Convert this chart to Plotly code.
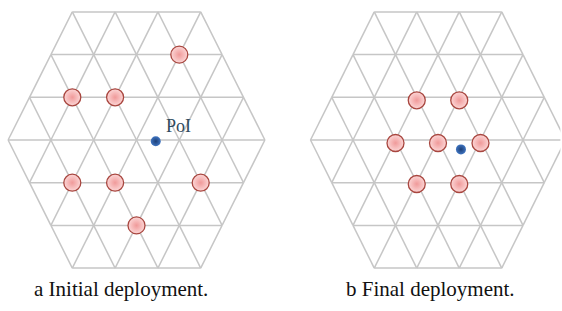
import plotly.graph_objects as go
from plotly.subplots import make_subplots

# ---- data (lattice coordinates: x in triangle-base units, y in row units) ----
HEX_SIDE = 3
initial_x = [1.0, -1.5, -0.5, -1.5, -0.5, 1.5, 0.0]
initial_y = [2.0, 1.0, 1.0, -1.0, -1.0, -1.0, -2.0]
initial_poi_x = [0.45]
initial_poi_y = [-0.03]

final_x = [-0.5, 0.5, -1.0, 0.0, 1.0, -0.5, 0.5]
final_y = [0.93, 0.93, -0.07, -0.07, -0.07, -1.03, -1.03]
final_poi_x = [0.54]
final_poi_y = [-0.22]

poi_label = "PoI"
captions = ["a Initial deployment.", "b Final deployment."]

# ---- grid edges of a triangulated hexagon ----
def hex_vertices(n):
    verts = []
    for r in range(-n, n + 1):
        cnt = 2 * n - abs(r)
        start = -cnt / 2
        for k in range(cnt + 1):
            verts.append((start + k, r))
    return verts

def hex_edges(n):
    v = hex_vertices(n)
    s = set(v)
    xs, ys = [], []
    for (x, r) in v:
        for dx, dr in [(1, 0), (0.5, 1), (-0.5, 1)]:
            q = (x + dx, r + dr)
            if q in s:
                xs += [x, q[0], None]
                ys += [r, q[1], None]
    return xs, ys

gx, gy = hex_edges(HEX_SIDE)

W, H = 562, 311
SERIF = "Liberation Serif, Times New Roman, DejaVu Serif, serif"
fig = make_subplots(rows=1, cols=2, horizontal_spacing=0)

grid_color = "#c6c6c6"
node_fill = "#fcd6d6"
node_edge = "#f09a9a"
node_line = "#a8463f"
poi_fill = "#3f74c0"
poi_edge = "#1c3f78"

panels = [
    (initial_x, initial_y, initial_poi_x, initial_poi_y, True),
    (final_x, final_y, final_poi_x, final_poi_y, False),
]
for i, (nx, ny, px, py, lab) in enumerate(panels, start=1):
    fig.add_trace(go.Scatter(x=gx, y=gy, mode="lines",
                             line=dict(color=grid_color, width=1.5),
                             hoverinfo="skip", showlegend=False, cliponaxis=False), row=1, col=i)
    fig.add_trace(go.Scatter(x=nx, y=ny, mode="markers",
                             marker=dict(size=17, color=node_fill,
                                         gradient=dict(type="radial", color=node_edge),
                                         line=dict(color=node_line, width=1.3)),
                             showlegend=False, cliponaxis=False), row=1, col=i)
    fig.add_trace(go.Scatter(x=px, y=py, mode="markers",
                             marker=dict(size=10, color=poi_fill,
                                         gradient=dict(type="radial", color=poi_edge),
                                         line=dict(width=0)),
                             showlegend=False, cliponaxis=False), row=1, col=i)
    if lab:
        fig.add_annotation(x=px[0] + 0.2, y=py[0] + 0.36, text=poi_label, showarrow=False,
                           xanchor="left", yanchor="middle", xref="x1", yref="y1",
                           font=dict(family=SERIF, size=18, color="#2f4a5c"))

# axis placement (lattice unit -> pixels)
def xdomain(center, unit, lo, hi):
    return [(center + lo * unit) / W, (center + hi * unit) / W]

fig.update_xaxes(range=[-3.1, 3.1], domain=xdomain(136.5, 42.8, -3.1, 3.1), row=1, col=1)
fig.update_xaxes(range=[-3.1, 2.88], domain=xdomain(438, 42.5, -3.1, 2.88), row=1, col=2)
ytop = 140 / 42.7
ybot = -(H - 140) / 42.7
fig.update_yaxes(range=[ybot, ytop], domain=[0, 1])
fig.update_xaxes(visible=False, showgrid=False, zeroline=False)
fig.update_yaxes(visible=False, showgrid=False, zeroline=False)

for cap, cx in zip(captions, [121, 430]):
    fig.add_annotation(x=cx / W, y=1 - 289 / H, xref="paper", yref="paper", text=cap,
                       showarrow=False, xanchor="center", yanchor="middle",
                       font=dict(family=SERIF, size=21, color="#111111"))

fig.update_layout(width=W, height=H, margin=dict(l=0, r=0, t=0, b=0),
                  paper_bgcolor="white", plot_bgcolor="white", hovermode=False)
fig.write_html("out.html", config={"displayModeBar": False, "staticPlot": True},
               post_script="document.body.style.margin='0';document.body.style.overflow='hidden';")
